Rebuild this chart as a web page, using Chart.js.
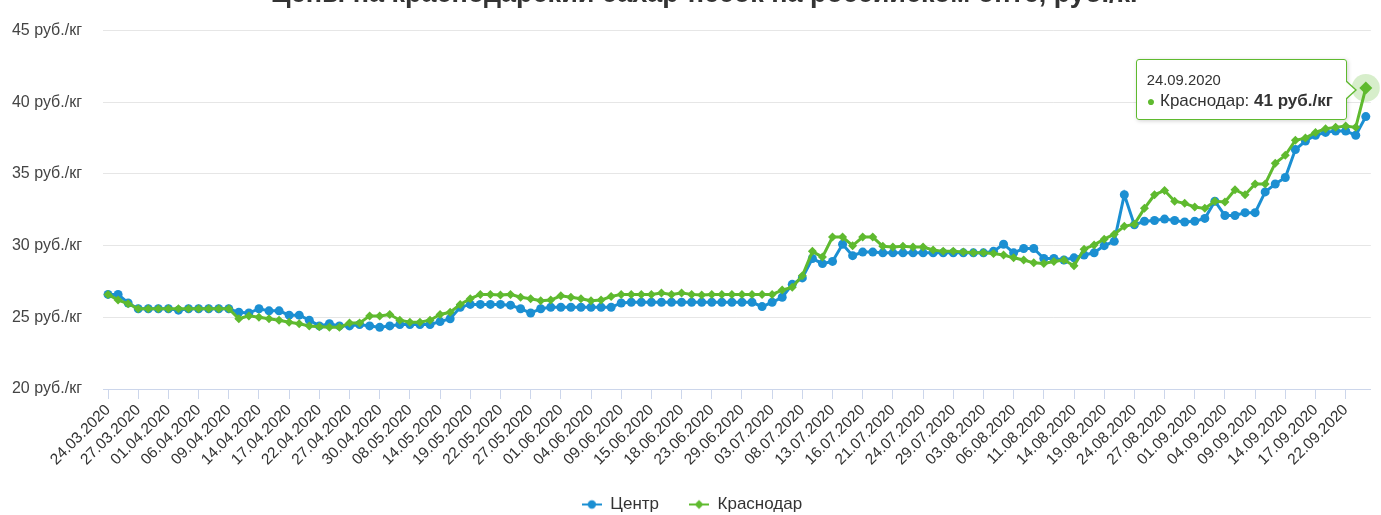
<!DOCTYPE html>
<html>
<head>
<meta charset="utf-8">
<script src="https://cdn.jsdelivr.net/npm/chart.js@4.4.1/dist/chart.umd.min.js"></script>
<style>
html,body{margin:0;padding:0;background:#fff;overflow:hidden;width:1381px;height:515px;}
#c{position:absolute;left:0;top:0;}
#tt{position:absolute;box-sizing:border-box;width:211px;height:61px;background:rgba(255,255,255,0.93);border:1px solid #5fba2f;border-radius:3px;box-shadow:1px 1px 4px rgba(0,0,0,0.18);font-family:"Liberation Sans",Arial,sans-serif;color:#333;padding:10px 0 0 10px;white-space:nowrap;}
#tt .d{font-size:14.8px;line-height:20px;}
#tt .l{font-size:17px;line-height:22px;}
#tt .dot{color:#5fba2f;font-size:14px;}
#tt:before,#tt:after{content:"";position:absolute;top:50%;width:0;height:0;border-style:solid;}
#tt:before{right:-11px;margin-top:-10px;border-width:10px 0 10px 11px;border-color:transparent transparent transparent #5fba2f;}
#tt:after{right:-9px;margin-top:-9px;border-width:9px 0 9px 10px;border-color:transparent transparent transparent rgba(255,255,255,0.98);}
</style>
</head>
<body>
<canvas id="c" width="1381" height="523"></canvas>
<div id="tt"></div>
<script>
const chartTitle = "Цены на краснодарский сахар-песок на российском опте, руб./кг";
const unit = " руб./кг";

const categories = [
"24.03.2020","25.03.2020","26.03.2020","27.03.2020","30.03.2020","31.03.2020",
"01.04.2020","02.04.2020","03.04.2020","06.04.2020","07.04.2020","08.04.2020","09.04.2020","10.04.2020",
"13.04.2020","14.04.2020","15.04.2020","16.04.2020","17.04.2020","20.04.2020","21.04.2020","22.04.2020",
"23.04.2020","24.04.2020","27.04.2020","28.04.2020","29.04.2020","30.04.2020",
"06.05.2020","07.05.2020","08.05.2020","12.05.2020","13.05.2020","14.05.2020","15.05.2020","18.05.2020",
"19.05.2020","20.05.2020","21.05.2020","22.05.2020","25.05.2020","26.05.2020","27.05.2020","28.05.2020","29.05.2020",
"01.06.2020","02.06.2020","03.06.2020","04.06.2020","05.06.2020","08.06.2020","09.06.2020","10.06.2020","11.06.2020",
"15.06.2020","16.06.2020","17.06.2020","18.06.2020","19.06.2020","22.06.2020","23.06.2020","25.06.2020","26.06.2020",
"29.06.2020","30.06.2020",
"02.07.2020","03.07.2020","06.07.2020","07.07.2020","08.07.2020","09.07.2020","10.07.2020","13.07.2020","14.07.2020",
"15.07.2020","16.07.2020","17.07.2020","20.07.2020","21.07.2020","22.07.2020","23.07.2020","24.07.2020","27.07.2020",
"28.07.2020","29.07.2020","30.07.2020","31.07.2020",
"03.08.2020","04.08.2020","05.08.2020","06.08.2020","07.08.2020","10.08.2020","11.08.2020","12.08.2020","13.08.2020",
"14.08.2020","17.08.2020","18.08.2020","19.08.2020","20.08.2020","21.08.2020","24.08.2020","25.08.2020","26.08.2020",
"27.08.2020","28.08.2020","31.08.2020",
"01.09.2020","02.09.2020","03.09.2020","04.09.2020","07.09.2020","08.09.2020","09.09.2020","10.09.2020","11.09.2020",
"14.09.2020","15.09.2020","16.09.2020","17.09.2020","18.09.2020","21.09.2020","22.09.2020","23.09.2020","24.09.2020"
];

const seriesNames = ["Центр", "Краснодар"];

const centerValues = [
26.6,26.6,26.0,25.6,25.6,25.6,25.6,25.5,25.6,25.6,
25.6,25.6,25.6,25.35,25.3,25.6,25.45,25.45,25.15,25.15,
24.8,24.4,24.55,24.4,24.4,24.5,24.4,24.3,24.4,24.5,
24.5,24.5,24.5,24.7,24.9,25.7,25.9,25.9,25.9,25.9,
25.85,25.6,25.3,25.6,25.7,25.7,25.7,25.7,25.7,25.7,
25.7,26.0,26.05,26.05,26.05,26.05,26.05,26.05,26.05,26.05,
26.05,26.05,26.05,26.05,26.05,25.75,26.05,26.4,27.3,27.75,
29.1,28.75,28.9,30.1,29.3,29.55,29.55,29.5,29.5,29.5,
29.5,29.5,29.5,29.5,29.5,29.5,29.5,29.5,29.6,30.1,
29.5,29.8,29.8,29.1,29.1,29.0,29.15,29.35,29.5,30.0,
30.3,33.55,31.45,31.7,31.75,31.85,31.75,31.65,31.7,31.9,
33.1,32.1,32.1,32.3,32.3,33.75,34.3,34.75,36.7,37.3,
37.7,37.9,38.0,38.0,37.7,39.0
];

const krasnodarValues = [
26.6,26.2,25.95,25.6,25.6,25.6,25.6,25.6,25.6,25.6,
25.6,25.6,25.6,24.9,25.1,25.0,24.9,24.8,24.65,24.55,
24.4,24.35,24.3,24.3,24.6,24.6,25.1,25.1,25.2,24.8,
24.65,24.65,24.8,25.2,25.35,25.9,26.3,26.6,26.6,26.55,
26.6,26.4,26.3,26.15,26.2,26.5,26.4,26.3,26.15,26.2,
26.45,26.6,26.6,26.6,26.6,26.7,26.6,26.7,26.6,26.55,
26.6,26.6,26.6,26.6,26.6,26.6,26.6,26.9,27.1,27.9,
29.6,29.2,30.6,30.6,30.0,30.6,30.6,29.95,29.9,29.95,
29.9,29.9,29.7,29.6,29.6,29.55,29.5,29.5,29.45,29.35,
29.15,29.0,28.8,28.75,28.9,29.0,28.6,29.75,30.05,30.45,
30.8,31.35,31.5,32.6,33.55,33.85,33.1,32.95,32.7,32.6,
33.1,33.05,33.9,33.55,34.3,34.3,35.75,36.3,37.35,37.5,
37.9,38.15,38.25,38.35,38.25,41.0
];

const yTickValues = [20, 25, 30, 35, 40, 45];
const labelStep = 3;
const highlightIndex = krasnodarValues.length - 1;

const BLUE = "#1b8fd2";
const GREEN = "#5fba2f";
const FONT = '"Liberation Sans", Arial, sans-serif';

Chart.defaults.font.family = FONT;
Chart.defaults.color = "#444";

function legendSymbol(color, shape) {
  const c = document.createElement("canvas");
  c.width = 20; c.height = 12;
  const g = c.getContext("2d");
  g.strokeStyle = color; g.lineWidth = 2;
  g.beginPath(); g.moveTo(0, 6); g.lineTo(20, 6); g.stroke();
  g.fillStyle = color;
  g.beginPath();
  if (shape === "circle") { g.arc(10, 6, 4.2, 0, Math.PI * 2); }
  else { g.moveTo(10, 1.5); g.lineTo(14.5, 6); g.lineTo(10, 10.5); g.lineTo(5.5, 6); g.closePath(); }
  g.fill();
  return c;
}
const legendSymbols = [legendSymbol(BLUE, "circle"), legendSymbol(GREEN, "diamond")];

const titlePlugin = {
  id: "clippedTitle",
  afterDraw(chart) {
    const ctx = chart.ctx;
    ctx.save();
    ctx.font = "bold 27px " + FONT;
    ctx.fillStyle = "#333";
    ctx.textAlign = "center";
    ctx.textBaseline = "alphabetic";
    ctx.fillText(chartTitle, 706, 2);
    ctx.restore();
  }
};

const haloPlugin = {
  id: "halo",
  beforeDatasetsDraw(chart) {
    const pt = chart.getDatasetMeta(1).data[highlightIndex];
    const ctx = chart.ctx;
    ctx.save();
    ctx.fillStyle = "rgba(95,186,47,0.25)";
    ctx.beginPath();
    ctx.arc(pt.x, pt.y, 14, 0, Math.PI * 2);
    ctx.fill();
    ctx.restore();
  }
};

const chart = new Chart(document.getElementById("c"), {
  type: "line",
  data: {
    labels: categories,
    datasets: [
      {
        label: seriesNames[0],
        data: centerValues,
        borderColor: BLUE,
        backgroundColor: BLUE,
        borderWidth: 3,
        pointStyle: "circle",
        pointRadius: 4.5,
        pointHoverRadius: 4.5,
        pointBorderWidth: 0,
        tension: 0,
        order: 1
      },
      {
        label: seriesNames[1],
        data: krasnodarValues,
        borderColor: GREEN,
        backgroundColor: GREEN,
        borderWidth: 3,
        pointStyle: "rectRot",
        pointRadius: (ctx) => (ctx.dataIndex === highlightIndex ? 6.5 : 4.5),
        pointHoverRadius: 4.5,
        pointBorderWidth: 0,
        tension: 0,
        order: 0
      }
    ]
  },
  options: {
    responsive: false,
    animation: false,
    devicePixelRatio: 1,
    events: [],
    layout: { padding: { left: 12, right: 9, top: 24, bottom: 0 } },
    plugins: {
      title: { display: false },
      tooltip: { enabled: false },
      legend: {
        position: "bottom",
        labels: {
          usePointStyle: true,
          pointStyleWidth: 20,
          color: "#333",
          font: { size: 17 },
          padding: 30,
          sort: (a, b) => a.datasetIndex - b.datasetIndex,
          generateLabels: (chart) =>
            Chart.defaults.plugins.legend.labels.generateLabels(chart).map((l) =>
              Object.assign(l, { pointStyle: legendSymbols[l.datasetIndex] }))
        }
      }
    },
    scales: {
      x: {
        type: "category",
        offset: true,
        afterFit: (scale) => { scale.height = 77; },
        grid: {
          display: true,
          drawOnChartArea: false,
          drawTicks: true,
          tickLength: 10,
          color: (ctx) => (ctx.index % labelStep === 0 ? "#ccd6eb" : "rgba(0,0,0,0)")
        },
        border: { display: true, color: "#ccd6eb", width: 1 },
        ticks: {
          autoSkip: false,
          minRotation: 45,
          maxRotation: 45,
          padding: 2,
          color: "#333",
          font: { size: 15.5 },
          callback: function (value, index) {
            return index % labelStep === 0 ? categories[index] : "";
          }
        }
      },
      y: {
        min: yTickValues[0],
        max: yTickValues[yTickValues.length - 1],
        afterBuildTicks: (axis) => { axis.ticks = yTickValues.map(v => ({ value: v })); },
        afterFit: (scale) => { scale.width = 91; },
        grid: { color: "#e6e6e6", lineWidth: 1, drawTicks: false },
        border: { display: false },
        ticks: {
          padding: 21,
          color: "#444",
          font: { size: 16 },
          callback: (v) => v + unit
        }
      }
    }
  },
  plugins: [titlePlugin, haloPlugin]
});

// Tooltip for the highlighted point, positioned from the library's computed point
(function () {
  const meta = chart.getDatasetMeta(1);
  const pt = meta.data[highlightIndex];
  const tt = document.getElementById("tt");
  tt.innerHTML =
    '<div class="d">' + categories[highlightIndex] + '</div>' +
    '<div class="l"><span class="dot">\u25CF</span> ' + seriesNames[1] + ': <b>' +
    krasnodarValues[highlightIndex] + unit + '</b></div>';
  const w = 211, h = 61;
  tt.style.left = (pt.x - 19 - w) + "px";
  tt.style.top = (pt.y + 2 - h / 2) + "px";
})();
</script>
</body>
</html>
